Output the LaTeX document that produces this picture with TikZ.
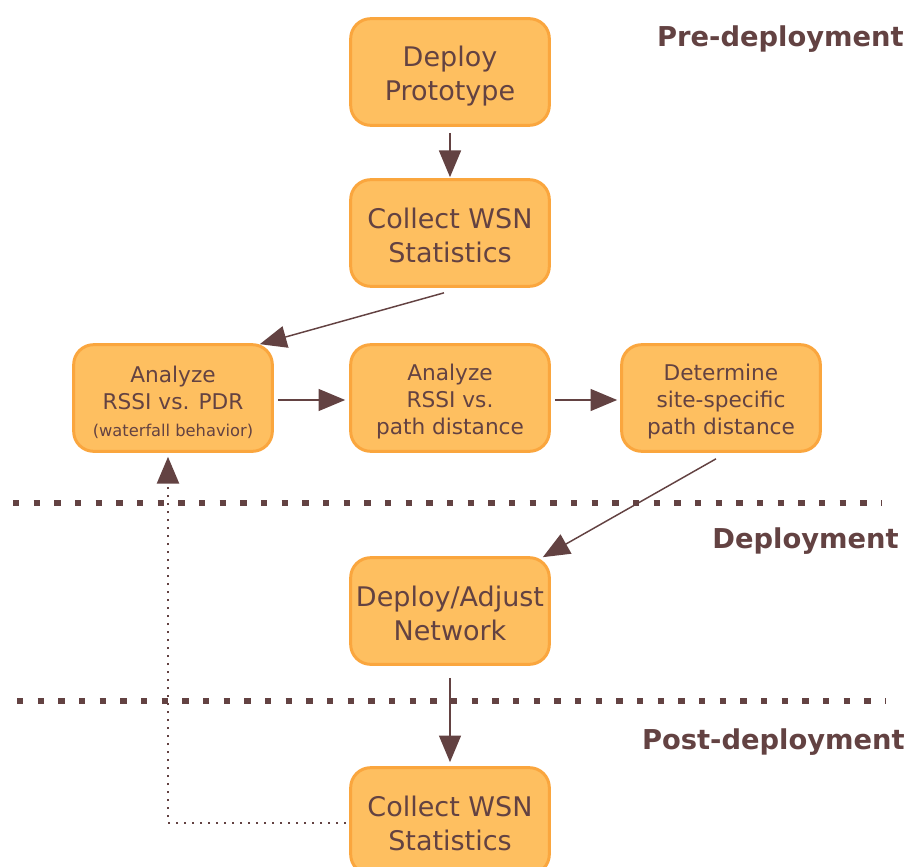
\documentclass[tikz,border=0pt]{standalone}
\usepackage{fontspec}
\setmainfont{DejaVu Sans}
\usetikzlibrary{arrows.meta,calc}
\definecolor{boxfill}{RGB}{254,191,96}
\definecolor{boxedge}{RGB}{250,166,62}
\definecolor{ink}{RGB}{99,66,66}
% invisible strut that lowers a node's text block a little
\newcommand\toplift[1]{\rule{0pt}{#1}}

\begin{document}
\begin{tikzpicture}[x=0.75pt,y=-0.75pt,
  stagebox/.style={draw=boxedge, fill=boxfill, line width=2.25pt, rounded corners=15pt,
    minimum width=149pt, minimum height=80pt, align=center, text=ink, inner sep=0pt},
  bigbox/.style={stagebox, font=\fontsize{20.25}{25.5}\selectfont},
  smallbox/.style={stagebox, font=\fontsize{16.25}{20.25}\selectfont},
  flow/.style={draw=ink, line width=1.1pt, -{Triangle[length=20pt,width=16.5pt]}},
  feedback/.style={draw=ink, line width=1.5pt, dash pattern=on 1.5pt off 4.5pt,
    -{Triangle[length=20pt,width=16.5pt]}},
  phase/.style={text=ink, font=\bfseries\fontsize{20.5}{24}\selectfont, anchor=east, inner sep=0pt},
  divider/.style={draw=ink, line width=5pt, dash pattern=on 4.8pt off 10.7pt}
]
\useasboundingbox (0,0) rectangle (908,867);
\clip (0,0) rectangle (908,867);

% phase dividers
\draw[divider] (13,503) -- (882,503);
\draw[divider] (17,701) -- (886,701);

% phase titles
\node[phase] (pre)  at (904,39)  {Pre-deployment};
\node[phase] (dep)  at (899,541) {Deployment};
\node[phase] (post) at (905,742) {Post-deployment};

% process steps
\node[bigbox]   (proto)    at (450,72)  {\toplift{22pt}Deploy\\Prototype};
\node[bigbox]   (collect)  at (450,233) {\toplift{19pt}Collect WSN\\Statistics};
\node[smallbox] (pdr)      at (173,398) {\toplift{19pt}Analyze\\RSSI vs. PDR\\{\fontsize{12.2}{20.25}\selectfont (waterfall behavior)}};
\node[smallbox] (pathd)    at (450,398) {\toplift{17pt}Analyze\\RSSI vs.\\path distance};
\node[smallbox] (site)     at (721,398) {\toplift{17pt}Determine\\site-specific\\path distance};
\node[bigbox]   (adjust)   at (450,611) {\toplift{19pt}Deploy/Adjust\\Network};
\node[bigbox]   (collect2) at (450,821) {\toplift{19pt}Collect WSN\\Statistics};

% connectors
\draw[flow] ($(proto.south)+(0,6)$) -- ($(collect.north)+(0,-1)$);
\draw[flow] ($(collect.south)+(-6,5)$) -- ($(pdr.north east)+(-14,1)$);
\draw[flow] ($(pdr.east)+(4,2)$) -- ($(pathd.west)+(-4,2)$);
\draw[flow] ($(pathd.east)+(4,2)$) -- ($(site.west)+(-3,2)$);
\draw[flow] ($(site.south)+(-5,6)$) -- ($(adjust.north east)+(-8,1)$);
\draw[flow] ($(adjust.south)+(0,12)$) -- ($(collect2.north)+(0,-4)$);
\draw[feedback] ($(collect2.west)+(-3,2)$) -| ($(pdr.south)+(-5,4)$);
\end{tikzpicture}
\end{document}
